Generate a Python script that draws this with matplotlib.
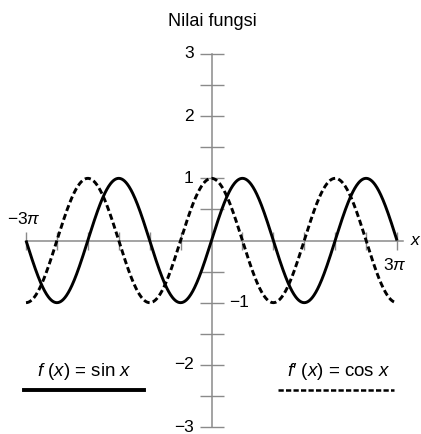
import numpy as np
import matplotlib
matplotlib.use("Agg")
import matplotlib.pyplot as plt
from matplotlib.lines import Line2D

plt.rcParams['font.family'] = ['Liberation Sans', 'DejaVu Sans']
plt.rcParams['mathtext.fontset'] = 'custom'
plt.rcParams['mathtext.rm'] = 'Liberation Sans'
plt.rcParams['mathtext.it'] = 'Liberation Sans:italic'

# data: f(x) = sin x and its derivative cos x over [-3pi, 3pi]
x_min, x_max = -3 * np.pi, 3 * np.pi
x = np.linspace(x_min, x_max, 800)
f_vals = np.sin(x)
df_vals = np.cos(x)

x_ticks = np.arange(-6, 7) * np.pi / 2
y_ticks = np.arange(-6, 7) * 0.5
y_labels = {3: '3', 2: '2', 1: '1', -1: '\u22121', -2: '\u22122', -3: '\u22123'}

W, H = 421, 434
fig = plt.figure(figsize=(W / 100, H / 100), dpi=100)
# axes box in pixels: x from 26 to 397, y(3)=54, y(-3)=427 (from top)
ax = fig.add_axes([26 / W, (H - 427) / H, (397 - 26) / W, (427 - 54) / H])
ax.set_xlim(x_min, x_max)
ax.set_ylim(-3, 3)
ax.set_axis_off()

axis_col = '#8a8a8a'
# axis lines
ax.plot([x_min, x_max + 0.1 * np.pi], [0, 0], color=axis_col, lw=1.1, clip_on=False, zorder=1)
ax.plot([0, 0], [-3, 3], color=axis_col, lw=1.1, clip_on=False, zorder=1)
# tick marks
xt = x_ticks[x_ticks != 0]
yt = y_ticks[y_ticks != 0]
ax.plot(xt, np.zeros_like(xt), ls='none', marker='|', ms=13, mew=1.0,
        color=axis_col, clip_on=False, zorder=1)
ax.plot(np.zeros_like(yt), yt, ls='none', marker='_', ms=17, mew=1.0,
        color=axis_col, clip_on=False, zorder=1)

ax.plot(x, f_vals, color='black', lw=2.1, clip_on=False, solid_capstyle='butt', zorder=3)
ax.plot(x, df_vals, color='black', lw=2.1, dashes=(2.1, 1.1), clip_on=False, zorder=3)

fs = 12.5
for v, lab in y_labels.items():
    if v == -1:
        ax.annotate(lab, (0, v), xytext=(18, 0), textcoords='offset pixels',
                    ha='left', va='center', fontsize=fs)
    else:
        ax.annotate(lab, (0, v), xytext=(-18, 0), textcoords='offset pixels',
                    ha='right', va='center', fontsize=fs)

ax.annotate('\u22123' + r'$\pi$', (x_min, 0), xytext=(-19, 22), textcoords='offset pixels',
            ha='left', va='center', fontsize=fs)
ax.annotate(r'3$\pi$', (x_max, 0), xytext=(-14, -25), textcoords='offset pixels',
            ha='left', va='center', fontsize=fs)
ax.annotate(r'$x$', (x_max, 0), xytext=(13, 0), textcoords='offset pixels',
            ha='left', va='center', fontsize=fs)

fig.text(212 / W, 1 - 22 / H, 'Nilai fungsi', ha='center', va='center', fontsize=13)

# legend-style labels
fig.text(84 / W, 1 - 372 / H, r'$f$ ($x$) = sin $x$', ha='center', va='center', fontsize=13.5)
fig.text(339 / W, 1 - 372 / H, '$f$\u2032 ($x$) = cos $x$', ha='center', va='center', fontsize=13.5)
fig.add_artist(Line2D([24 / W, 144 / W], [1 - 390 / H, 1 - 390 / H], color='black', lw=2.8,
                      transform=fig.transFigure))
fig.add_artist(Line2D([278 / W, 394 / W], [1 - 390 / H, 1 - 390 / H], color='black', lw=1.8,
                      dashes=(2.1, 0.9), transform=fig.transFigure))

fig.savefig('out.png', dpi=100)
